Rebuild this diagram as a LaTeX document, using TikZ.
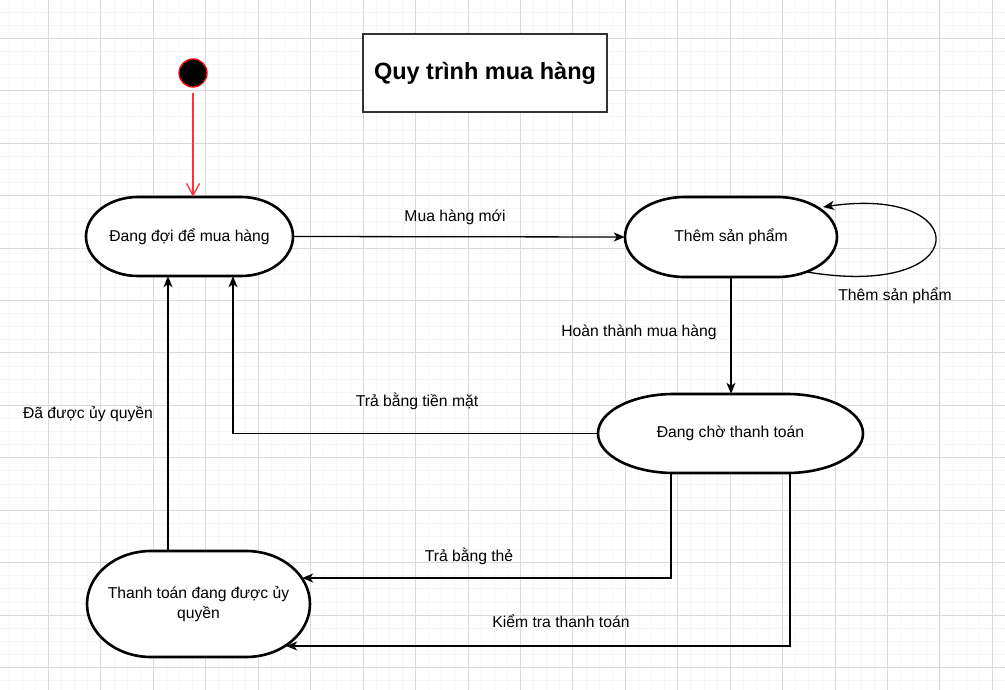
\documentclass[tikz,border=0pt]{standalone}
\usepackage{fontspec}
\setmainfont{Liberation Sans}
\usetikzlibrary{arrows.meta,calc}

\begin{document}
\begin{tikzpicture}[x=1pt,y=-1pt,>={Stealth[length=11pt,width=9pt,inset=3pt]},
  font=\fontsize{15.7}{19.5}\selectfont,
  minor grid/.style={draw=gray!7,line width=1pt},
  major grid/.style={draw=gray!30,line width=1pt},
  state text/.style={rectangle,inner sep=0pt,align=center},
  state line/.style={draw=black,line width=2.6pt,fill=white},
  flow/.style={->,line width=1.3pt},
  start dot/.style={circle,fill=black,draw=red,line width=1.3pt,minimum size=28pt,inner sep=0pt}]
\useasboundingbox (0,0) rectangle (1005,690);
\fill[white] (0,0) rectangle (1005,690);

% grid
\foreach \i in {0,...,76}{
    \pgfmathsetmacro{\gx}{9.2+13.11*\i}
    \draw[minor grid] (\gx,0)--(\gx,690);
}
\foreach \i in {0,...,51}{
    \pgfmathsetmacro{\gy}{12.1+13.11*\i}
    \draw[minor grid] (0,\gy)--(1005,\gy);
}
\foreach \i in {0,...,18}{
    \pgfmathsetmacro{\gx}{48.5+52.44*\i}
    \draw[major grid] (\gx,0)--(\gx,690);
}
\foreach \i in {0,...,12}{
    \pgfmathsetmacro{\gy}{38.3+52.44*\i}
    \draw[major grid] (0,\gy)--(1005,\gy);
}

\node[draw=black!80,line width=1.3pt,fill=white,minimum width=244pt,minimum height=78pt,
  font=\bfseries\fontsize{23.5}{28}\selectfont] (title) at (485,73) {Quy trình mua hàng};

% states
\foreach \n/\x/\y/\w/\h/\rx/\txt in {
    wait/189.5/236.5/207/79/52/{Đang đợi để mua hàng},
    add/731/237/212/80/60/{Thêm sản phẩm},
    pay/730.5/433.5/265/79/76/{Đang chờ thanh toán},
    auth/198.5/604/223/106/64/{Thanh toán đang được ủy\\quyền}}{
    \pgfmathsetmacro{\flat}{\w-2*\rx}
    \pgfmathsetmacro{\hh}{\h/2}
    \draw[state line] ($(\x,\y)+(-\w/2+\rx,-\hh)$) --++(\flat,0)
        arc[start angle=90,end angle=-90,x radius=\rx pt,y radius=\hh pt] --++(-\flat,0)
        arc[start angle=270,end angle=90,x radius=\rx pt,y radius=\hh pt] -- cycle;
    \node[state text,minimum width=\w,minimum height=\h] (\n) at (\x,\y) {\txt};
}

\node[start dot] (start) at (193,73) {};
\draw[->,red!80,line width=1.3pt,shorten <=5pt,>={Straight Barb[length=12pt,width=13pt]}]
    (start.south) -- (wait.north -| start);

% transitions
\draw[flow] (wait.east) -- (add.west);
\node (newbuy) at (455,217) {Mua hàng mới};

\coordinate (loopout) at ($(add.center)+(76,35)$);
\coordinate (loopin) at ($(add.center)+(92,-30)$);
\draw[flow] (loopout) .. controls (975,300) and (975,185) .. (loopin);
\node (addmore) at (895,296) {Thêm sản phẩm};

\draw[flow] (add.south) -- (add.south |- pay.north);
\node (done) at (639,332) {Hoàn thành mua hàng};

\draw[flow] (pay.west) -| ($(wait.south)+(43.5,0)$);
\node (cash) at (417,401) {Trả bằng tiền mặt};

\coordinate (cardin) at ($(auth.east)+(-8,-26)$);
\coordinate (checkin) at ($(auth.east)+(-24,42)$);
\draw[flow] ($(pay.south)+(-59.5,0)$) |- (cardin);
\node (card) at (469,556) {Trả bằng thẻ};
\draw[flow] ($(pay.south)+(59.5,0)$) |- (checkin);
\node (check) at (561,621) {Kiểm tra thanh toán};

\draw[flow] ($(auth.north)+(-30.5,0)$) coordinate (authup) -- (authup |- wait.south);
\node (granted) at (88,414) {Đã được ủy quyền};
\end{tikzpicture}
\end{document}
